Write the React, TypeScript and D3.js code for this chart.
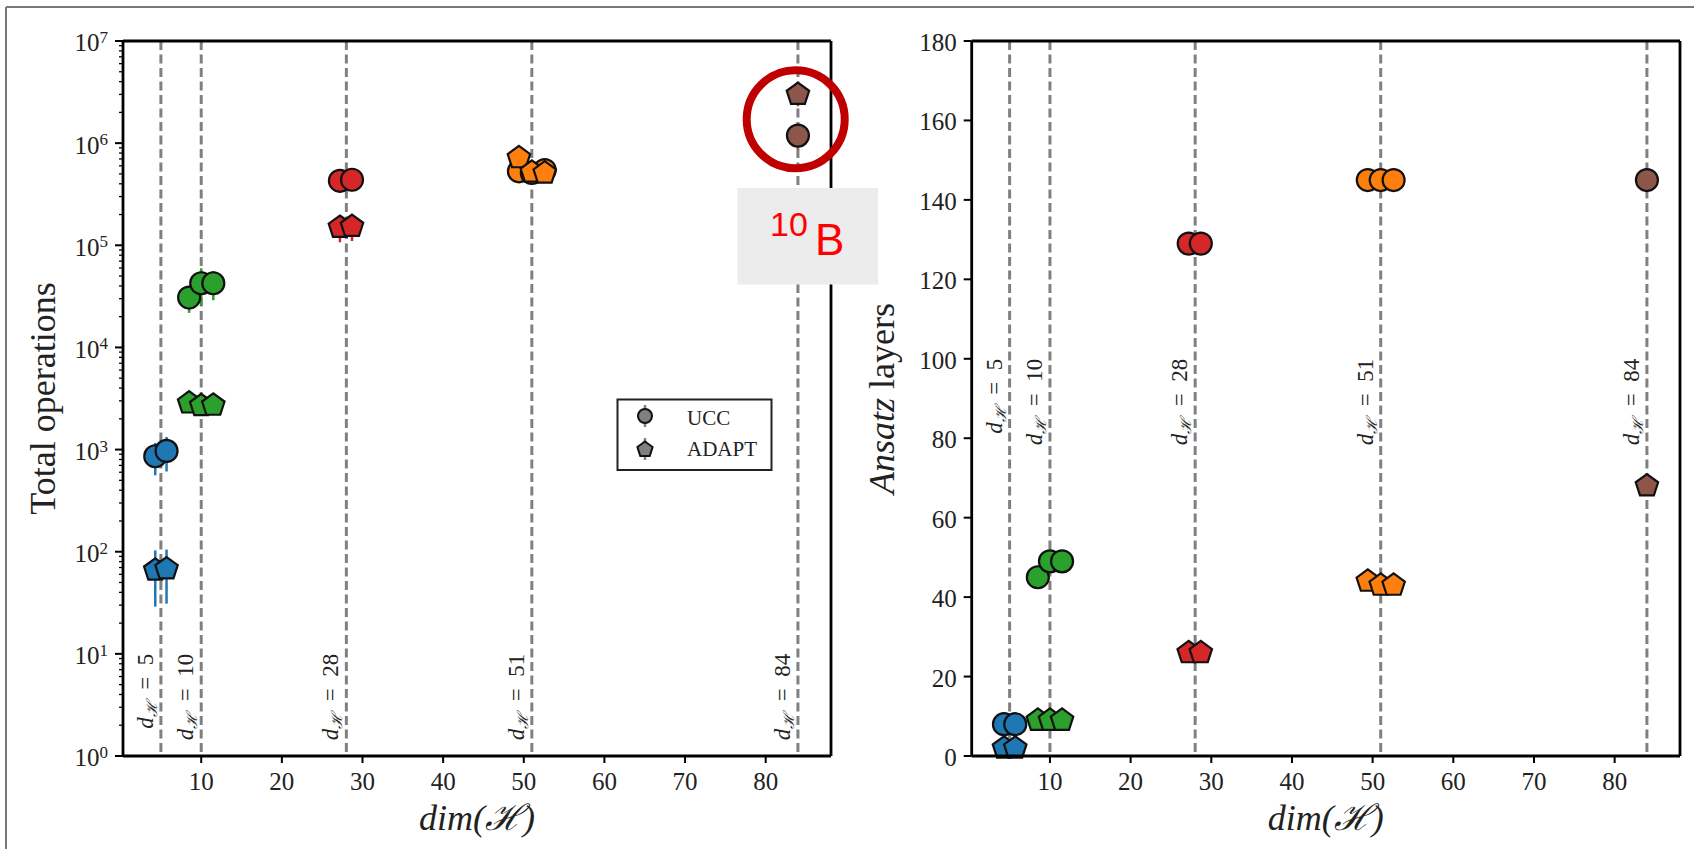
import React from "react";
import * as d3 from "d3";

const W = 1694;
const H = 849;
const FONT = "'Liberation Serif', 'Times New Roman', serif";

// Hilbert-space dimensions (dashed guides) and the colour of each group
const dimLines = [5, 10, 28, 51, 84];
const groupColors = ["#1f77b4", "#2ca02c", "#d62728", "#ff7f0e", "#8c564b"];

// x position of every point (small offsets around each dimension)
const pointX = [[4.3, 5.7], [8.5, 10, 11.5], [27.2, 28.7], [49.4, 51, 52.6], [84]];

// left panel: total operations (log)
const uccOps = [[860, 970], [30800, 42500, 42500], [428000, 438000], [530000, 510000, 545000], [1185000]];
const uccOpsErr = [[300, 360], [9000, 17000, 13500], [100000, 100000], [40000, 40000, 40000], [320000]];
const adaptOps = [[66, 68], [2860, 2690, 2720], [150000, 153000], [720000, 520000, 510000], [3000000]];
const adaptOpsErr = [[37, 37], [300, 300, 300], [43000, 43000], [40000, 40000, 40000], [700000]];

// right panel: ansatz layers (linear)
const uccLayers = [[8, 8], [45, 49, 49], [129, 129], [145, 145, 145], [145]];
const adaptLayers = [[2, 2], [9, 9, 9], [26, 26], [44, 43, 43], [68]];

const xTicks = [10, 20, 30, 40, 50, 60, 70, 80];
const layerTicks = [0, 20, 40, 60, 80, 100, 120, 140, 160, 180];
const X_DOMAIN = [0.3, 88.1];

const pentagon = (cx: number, cy: number, r: number) =>
  d3.range(5).map((k) => {
    const a = -Math.PI / 2 + (k * 2 * Math.PI) / 5;
    return [cx + r * Math.cos(a), cy + r * Math.sin(a)];
  });

const pentPath = (cx: number, cy: number, r: number) =>
  "M" + pentagon(cx, cy, r).map((p) => p.join(",")).join("L") + "Z";

type PanelProps = {
  box: { l: number; t: number; r: number; b: number };
  log: boolean;
  ucc: number[][];
  adapt: number[][];
  uccErr?: number[][];
  adaptErr?: number[][];
  labelAt: number;
  ylabel: React.ReactNode;
  ylabelX: number;
  legend?: boolean;
};

const Panel = ({ box, log, ucc, adapt, uccErr, adaptErr, labelAt, ylabel, ylabelX, legend }: PanelProps) => {
  const x = d3.scaleLinear().domain(X_DOMAIN).range([box.l, box.r]);
  const y: any = log
    ? d3.scaleLog().domain([1, 1e7]).range([box.b, box.t])
    : d3.scaleLinear().domain([0, 180]).range([box.b, box.t]);
  const R = 11;

  const errBars = (vals: number[][], errs?: number[][]) =>
    errs
      ? vals.flatMap((g, gi) =>
          g.map((v, i) => (
            <line
              key={`e${gi}-${i}`}
              x1={x(pointX[gi][i])}
              x2={x(pointX[gi][i])}
              y1={y(v + errs[gi][i])}
              y2={y(Math.max(v - errs[gi][i], 1.01))}
              stroke={groupColors[gi]}
              strokeWidth={2.5}
            />
          ))
        )
      : null;

  const logTicks = log ? y.ticks() : [];

  return (
    <g>
      {dimLines.map((d) => (
        <line
          key={d}
          x1={x(d)}
          x2={x(d)}
          y1={box.t}
          y2={box.b}
          stroke="#808080"
          strokeWidth={3}
          strokeDasharray="9,4.5"
        />
      ))}
      {dimLines.map((d) => (
        <text
          key={"l" + d}
          transform={`translate(${x(d) - 8},${y(labelAt)}) rotate(-90)`}
          textAnchor="end"
          fontFamily={FONT}
          fontSize={23}
          fill="#222"
        >
          <tspan fontStyle="italic">d</tspan>
          <tspan fontSize={15} dy={4} fontStyle="italic">ℋ</tspan>
          <tspan dy={-4}>{"\u2002=\u2002" + d}</tspan>
        </text>
      ))}
      {errBars(ucc, uccErr)}
      {errBars(adapt, adaptErr)}
      {ucc.flatMap((g, gi) =>
        g.map((v, i) => (
          <circle
            key={`c${gi}-${i}`}
            cx={x(pointX[gi][i])}
            cy={y(v)}
            r={R}
            fill={groupColors[gi]}
            stroke="#111"
            strokeWidth={2.2}
          />
        ))
      )}
      {adapt.flatMap((g, gi) =>
        g.map((v, i) => (
          <path
            key={`p${gi}-${i}`}
            d={pentPath(x(pointX[gi][i]), y(v), R + 0.8)}
            fill={groupColors[gi]}
            stroke="#111"
            strokeWidth={2.2}
            strokeLinejoin="miter"
          />
        ))
      )}
      {/* spines */}
      <line x1={box.l} x2={box.r} y1={box.t} y2={box.t} stroke="#000" strokeWidth={2.8} />
      <line x1={box.l} x2={box.r} y1={box.b} y2={box.b} stroke="#000" strokeWidth={2.8} />
      <line x1={box.l} x2={box.l} y1={box.t} y2={box.b} stroke="#000" strokeWidth={2.8} />
      <line x1={box.r} x2={box.r} y1={box.t} y2={box.b} stroke="#000" strokeWidth={2.8} />
      {/* x ticks */}
      {xTicks.map((t) => (
        <g key={"x" + t}>
          <line x1={x(t)} x2={x(t)} y1={box.b} y2={box.b + 7} stroke="#000" strokeWidth={2} />
          <text x={x(t)} y={box.b + 34} textAnchor="middle" fontFamily={FONT} fontSize={25} fill="#222">
            {t}
          </text>
        </g>
      ))}
      {/* y ticks */}
      {log
        ? logTicks.map((t: number) => {
            const k = Math.log10(t);
            const major = Math.abs(k - Math.round(k)) < 1e-9;
            return (
              <g key={"y" + t}>
                <line
                  x1={box.l - (major ? 8 : 4)}
                  x2={box.l}
                  y1={y(t)}
                  y2={y(t)}
                  stroke="#000"
                  strokeWidth={major ? 2 : 1.3}
                />
                {major && (
                  <text x={box.l - 15} y={y(t) + 10.4} textAnchor="end" fontFamily={FONT} fontSize={25} fill="#222">
                    <tspan>10</tspan>
                    <tspan dy={-8.4} fontSize={17}>
                      {Math.round(k)}
                    </tspan>
                  </text>
                )}
              </g>
            );
          })
        : layerTicks.map((t) => (
            <g key={"y" + t}>
              <line x1={box.l - 8} x2={box.l} y1={y(t)} y2={y(t)} stroke="#000" strokeWidth={2} />
              <text x={box.l - 15} y={y(t) + 10} textAnchor="end" fontFamily={FONT} fontSize={25} fill="#222">
                {t}
              </text>
            </g>
          ))}
      {/* axis labels */}
      <text
        x={(box.l + box.r) / 2}
        y={830}
        textAnchor="middle"
        fontFamily={FONT}
        fontSize={36}
        fontStyle="italic"
        fill="#222"
      >
        dim(ℋ)
      </text>
      <text
        transform={`translate(${ylabelX},${(box.t + box.b) / 2}) rotate(-90)`}
        textAnchor="middle"
        fontFamily={FONT}
        fontSize={36}
        fill="#222"
      >
        {ylabel}
      </text>
      {legend && (
        <g>
          <rect x={617.5} y={399.5} width={154} height={70.5} fill="#fff" stroke="#222" strokeWidth={2} />
          <line x1={645} x2={645} y1={405} y2={427} stroke="#808080" strokeWidth={2.5} />
          <circle cx={645} cy={416} r={7} fill="#808080" stroke="#111" strokeWidth={2} />
          <line x1={645} x2={645} y1={438} y2={460} stroke="#808080" strokeWidth={2.5} />
          <path d={pentPath(645, 449.5, 8)} fill="#808080" stroke="#111" strokeWidth={2} />
          <text x={687} y={425} fontFamily={FONT} fontSize={21} fill="#222">UCC</text>
          <text x={687} y={456} fontFamily={FONT} fontSize={21} fill="#222">ADAPT</text>
        </g>
      )}
    </g>
  );
};

export default function App() {
  return (
    <svg
      width={W}
      height={H}
      style={{ position: "absolute", left: 0, top: 0, display: "block", background: "#fff" }}
    >
      <rect x={0} y={0} width={W} height={H} fill="#fff" />
      {/* page frame */}
      <line x1={6} x2={W} y1={7} y2={7} stroke="#7d7873" strokeWidth={2} />
      <line x1={6} x2={6} y1={7} y2={H} stroke="#7d7873" strokeWidth={2} />

      <Panel
        box={{ l: 123, t: 41, r: 831, b: 756 }}
        log
        ucc={uccOps}
        adapt={adaptOps}
        uccErr={uccOpsErr}
        adaptErr={adaptOpsErr}
        labelAt={10}
        ylabel="Total operations"
        ylabelX={55}
        legend
      />
      <Panel
        box={{ l: 971.7, t: 41, r: 1680, b: 756 }}
        log={false}
        ucc={uccLayers}
        adapt={adaptLayers}
        labelAt={100}
        ylabel={
          <>
            <tspan fontStyle="italic">Ansatz</tspan>
            <tspan> layers</tspan>
          </>
        }
        ylabelX={894}
      />

      {/* annotation overlay */}
      <circle cx={795.7} cy={119.3} r={49} fill="none" stroke="#c00000" strokeWidth={8} />
      <rect x={737.5} y={188} width={140.5} height={96.5} fill="#ececec" />
      <text fontFamily="'Liberation Sans', Arial, sans-serif" fill="#ff0000">
        <tspan x={770} y={236} fontSize={34}>10</tspan>
        <tspan x={815} y={255} fontSize={44}>B</tspan>
      </text>
    </svg>
  );
}
